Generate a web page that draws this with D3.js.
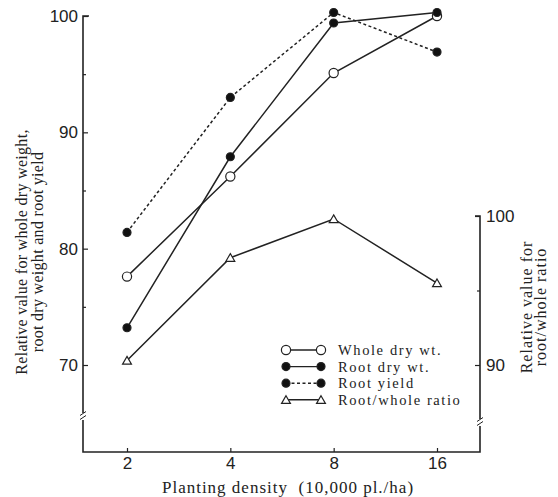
<!DOCTYPE html>
<html>
<head>
<meta charset="utf-8">
<script src="https://cdn.jsdelivr.net/npm/d3@7"></script>
<style>
  body { margin: 0; background: #fff; }
  svg { font-family: "Liberation Serif", "DejaVu Serif", serif; }
  .axis text { font-size: 17px; fill: #222; }
</style>
</head>
<body>
<svg width="558" height="497"></svg>
<script>
var width = 558,
  height = 497;

// planting density (10,000 pl./ha)
var densities = [2, 4, 8, 16];
// relative values, left axis
var wholeDry = [77.6, 86.2, 95.1, 100];
var rootDry = [73.2, 87.9, 99.4, 100.3];
var rootYield = [81.4, 93.0, 100.3, 96.9];
// relative value, right axis
var ratio = [90.3, 97.2, 99.8, 95.5];

var leftTicks = [70, 80, 90, 100],
  leftMinor = [75, 85, 95],
  rightTicks = [90, 100],
  rightMinor = [95];

var svg = d3.select("svg");

var x = d3.scaleLog().base(2).domain([2, 16]).range([127, 437]);
var yL = d3.scaleLinear().domain([70, 100]).range([365, 16]);
var yR = d3.scaleLinear().domain([90, 100]).range([365, 216]);

var axL = 83, axR = 480, axB = 452;

// frame with breaks
var frame = svg.append("g").attr("stroke", "#222").attr("stroke-width", 1.6).attr("fill", "none");
frame.append("path").attr("d", "M" + (axL + 6) + "," + yL(100) + "H" + axL + "V" + 413);
frame.append("path").attr("d", "M" + axL + "," + 420 + "V" + axB + "H" + axR + "V" + 426);
frame.append("path").attr("d", "M" + axR + "," + 419 + "V" + yR(100) + "H" + (axR - 5));
// break marks
[[axL, 416.5], [axR, 422.5]].forEach(function (b) {
  frame.append("path").attr("stroke-width", 1)
    .attr("d", "M" + (b[0] - 3) + "," + (b[1] - 1) + "L" + (b[0] + 3) + "," + (b[1] - 5) +
      "M" + (b[0] - 3) + "," + (b[1] + 3) + "L" + (b[0] + 3) + "," + (b[1] - 1));
});

// axes
var gL = svg.append("g").attr("class", "axis").attr("transform", "translate(" + axL + ",0)")
  .call(d3.axisLeft(yL).tickValues(leftTicks).tickSize(-5).tickPadding(5));
var gLm = svg.append("g").attr("class", "axis").attr("transform", "translate(" + axL + ",0)")
  .call(d3.axisLeft(yL).tickValues(leftMinor).tickSize(-3).tickFormat(""));
var gR = svg.append("g").attr("class", "axis").attr("transform", "translate(" + axR + ",0)")
  .call(d3.axisRight(yR).tickValues(rightTicks).tickSize(-5).tickPadding(6));
var gRm = svg.append("g").attr("class", "axis").attr("transform", "translate(" + axR + ",0)")
  .call(d3.axisRight(yR).tickValues(rightMinor).tickSize(-3).tickFormat(""));
var gX = svg.append("g").attr("class", "axis").attr("transform", "translate(0," + axB + ")")
  .call(d3.axisBottom(x).tickValues(densities).tickSize(-4).tickPadding(5).tickFormat(d3.format("d")));
[gL, gLm, gR, gRm, gX].forEach(function (g) {
  g.select(".domain").remove();
  g.selectAll("line").attr("stroke", "#222").attr("stroke-width", 1.2);
});

// axis titles
function title(tx, ty, str, ls) {
  svg.append("text").attr("transform", "translate(" + tx + "," + ty + ") rotate(-90)")
    .attr("text-anchor", "middle").attr("font-size", 16).attr("letter-spacing", ls)
    .attr("fill", "#222").text(str);
}
title(27, 252, "Relative value for whole dry weight,", 0.3);
title(43, 252, "root dry weight and root yield", 0.3);
title(532, 307, "Relative value for", 1);
title(546, 307, "root/whole ratio", 1);
svg.append("text").attr("x", 288).attr("y", 493).attr("text-anchor", "middle")
  .attr("font-size", 17).attr("letter-spacing", 1).attr("fill", "#222").attr("xml:space", "preserve")
  .text("Planting density  (10,000 pl./ha)");

// series
var series = [
  { name: "Whole dry wt.", vals: wholeDry, y: yL, dash: null, mark: "open" },
  { name: "Root dry wt.", vals: rootDry, y: yL, dash: null, mark: "filled" },
  { name: "Root yield", vals: rootYield, y: yL, dash: "3,2.5", mark: "filled" },
  { name: "Root/whole ratio", vals: ratio, y: yR, dash: null, mark: "tri" }
];

var line = d3.line();
var tri = d3.symbol().type(d3.symbolTriangle).size(34);

function drawMark(g, m, cx, cy) {
  if (m === "tri") {
    g.append("path").attr("d", tri).attr("transform", "translate(" + cx + "," + (cy + 1) + ")")
      .attr("fill", "#fff").attr("stroke", "#222").attr("stroke-width", 1.2);
  } else {
    g.append("circle").attr("cx", cx).attr("cy", cy).attr("r", m === "open" ? 4.6 : 4)
      .attr("fill", m === "open" ? "#fff" : "#111").attr("stroke", "#222").attr("stroke-width", 1.2);
  }
}

series.forEach(function (s) {
  var pts = densities.map(function (d, i) { return [x(d), s.y(s.vals[i])]; });
  svg.append("path").attr("d", line(pts)).attr("fill", "none").attr("stroke", "#222")
    .attr("stroke-width", 1.5).attr("stroke-dasharray", s.dash);
});
series.forEach(function (s) {
  var g = svg.append("g");
  densities.forEach(function (d, i) { drawMark(g, s.mark, x(d), s.y(s.vals[i])); });
});

// legend
var leg = svg.append("g");
series.forEach(function (s, i) {
  var ly = 350 + i * 16.6;
  leg.append("line").attr("x1", 286).attr("x2", 321).attr("y1", ly).attr("y2", ly)
    .attr("stroke", "#222").attr("stroke-width", 1.4).attr("stroke-dasharray", s.dash);
  var g = leg.append("g");
  drawMark(g, s.mark, 286, ly);
  drawMark(g, s.mark, 321, ly);
  leg.append("text").attr("x", 338).attr("y", ly + 5).attr("font-size", 14.5).attr("letter-spacing", 1.6)
    .attr("fill", "#222").text(s.name);
});
</script>
</body>
</html>
